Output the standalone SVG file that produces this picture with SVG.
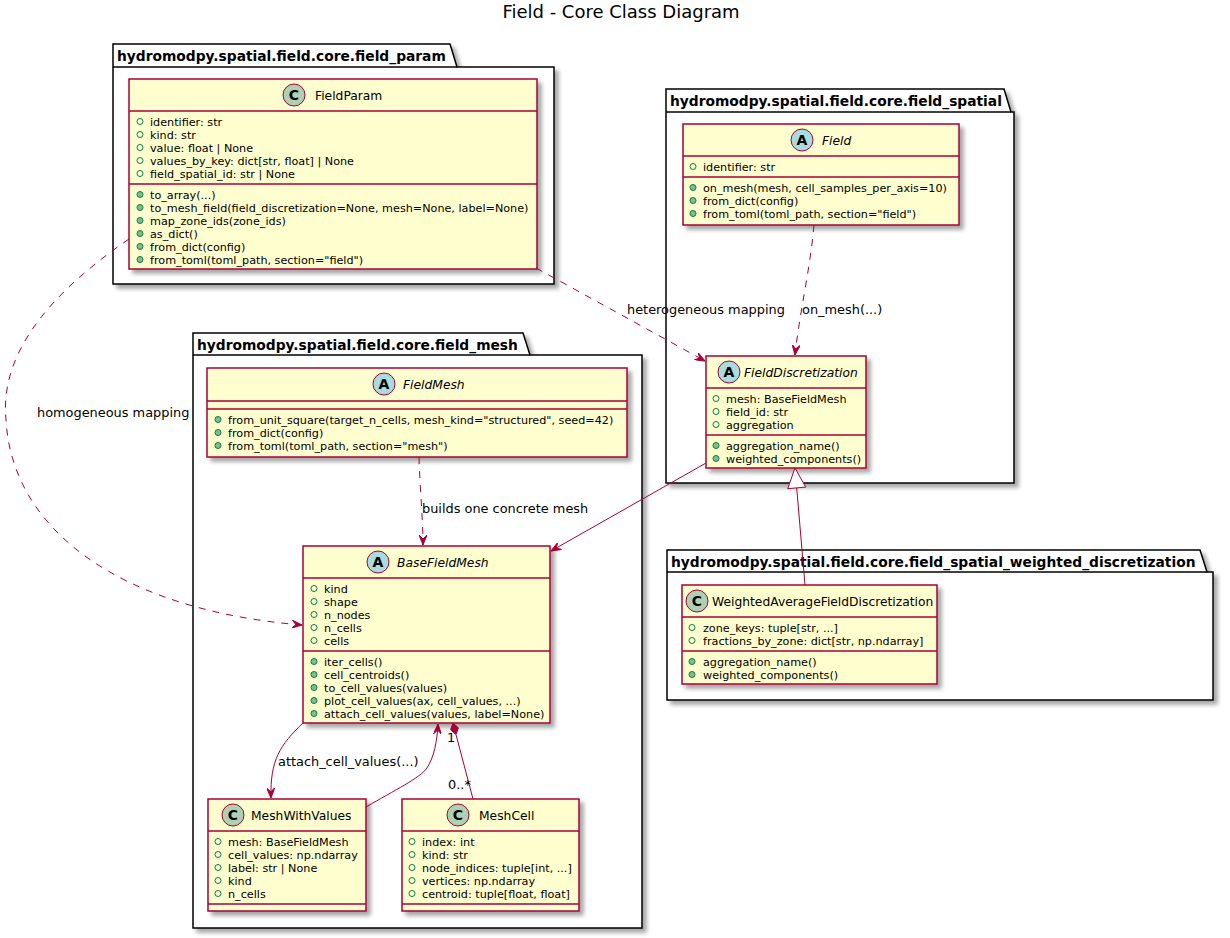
<svg xmlns="http://www.w3.org/2000/svg" width="1230" height="938" viewBox="0 0 1230 938">
<style>
text { font-family: "DejaVu Sans", sans-serif; fill: #000; }
.pkg { fill: #FFFFFF; stroke: #000; stroke-width: 1.5; }
.pkgl { fill: none; stroke: #000; stroke-width: 1.5; }
.pkgt { font-size: 13.8px; font-weight: bold; }
.cls { fill: #FEFECE; stroke: #A80036; stroke-width: 1.5; }
.sep { stroke: #A80036; stroke-width: 1.5; }
.cn { font-size: 12.3px; }
.ab { font-style: italic; }
.m { font-size: 11.2px; }
.fo { fill: none; stroke: #038048; stroke-width: 1; }
.mo { fill: #84BE84; stroke: #038048; stroke-width: 1; }
.sc { fill: #ADD1B2; stroke: #A80036; stroke-width: 1; }
.sa { fill: #A9DCDF; stroke: #A80036; stroke-width: 1; }
.sl { font-size: 14px; font-weight: bold; text-anchor: middle; }
.edge { fill: none; stroke: #A80036; stroke-width: 1; }
.dash { stroke-dasharray: 7,7; }
.lbl { font-size: 12.9px; }
.title { font-size: 18px; text-anchor: middle; }
</style>
<defs>
<filter id="sh" x="-10%" y="-10%" width="130%" height="130%">
<feDropShadow dx="4" dy="4" stdDeviation="2" flood-color="#000" flood-opacity="0.35"/>
</filter>
<marker id="arr" markerUnits="userSpaceOnUse" markerWidth="10" markerHeight="8" viewBox="0 0 10 8" refX="10" refY="4" orient="auto">
<path d="M0,0 L10,4 L0,8 L4,4 Z" fill="#A80036" stroke="#A80036" stroke-width="1"/>
</marker>
</defs>
<rect x="0" y="0" width="1230" height="938" fill="#FFFFFF"/>
<text class="title" x="621" y="17.5">Field - Core Class Diagram</text>

<!-- packages -->
<g id="pkg_field_param">
<path class="pkg" filter="url(#sh)" d="M113,44 L450,44 L457,67 L554,67 L554,284 L113,284 Z"/>
<path class="pkgl" d="M113,67 L457,67"/>
<text class="pkgt" x="117" y="61">hydromodpy.spatial.field.core.field_param</text>
</g>
<g id="pkg_field_spatial">
<path class="pkg" filter="url(#sh)" d="M666,89 L1004,89 L1011,112 L1014,112 L1014,483 L666,483 Z"/>
<path class="pkgl" d="M666,112 L1011,112"/>
<text class="pkgt" x="670" y="106">hydromodpy.spatial.field.core.field_spatial</text>
</g>
<g id="pkg_field_mesh">
<path class="pkg" filter="url(#sh)" d="M193,333 L523,333 L530,355 L642,355 L642,928 L193,928 Z"/>
<path class="pkgl" d="M193,355 L530,355"/>
<text class="pkgt" x="197" y="350">hydromodpy.spatial.field.core.field_mesh</text>
</g>
<g id="pkg_field_spatial_weighted_discretization">
<path class="pkg" filter="url(#sh)" d="M667,550 L1200,550 L1207,572 L1213,572 L1213,700 L667,700 Z"/>
<path class="pkgl" d="M667,572 L1207,572"/>
<text class="pkgt" x="671" y="567">hydromodpy.spatial.field.core.field_spatial_weighted_discretization</text>
</g>

<!-- FieldParam -->
<g id="FieldParam">
<rect class="cls" filter="url(#sh)" x="129" y="79" width="408" height="190"/>
<line class="sep" x1="129" y1="111" x2="537" y2="111"/>
<line class="sep" x1="129" y1="184" x2="537" y2="184"/>
<circle class="sc" cx="294" cy="95" r="11"/>
<text class="sl" x="294" y="100">C</text>
<text class="cn" x="315" y="100">FieldParam</text>
<circle class="fo" cx="140" cy="121.5" r="3"/><text class="m" x="150" y="125.5">identifier: str</text>
<circle class="fo" cx="140" cy="134.5" r="3"/><text class="m" x="150" y="138.5">kind: str</text>
<circle class="fo" cx="140" cy="147.5" r="3"/><text class="m" x="150" y="151.5">value: float | None</text>
<circle class="fo" cx="140" cy="160.5" r="3"/><text class="m" x="150" y="164.5">values_by_key: dict[str, float] | None</text>
<circle class="fo" cx="140" cy="173.5" r="3"/><text class="m" x="150" y="177.5">field_spatial_id: str | None</text>
<circle class="mo" cx="140" cy="194.5" r="3"/><text class="m" x="150" y="198.5">to_array(...)</text>
<circle class="mo" cx="140" cy="207.5" r="3"/><text class="m" x="150" y="211.5">to_mesh_field(field_discretization=None, mesh=None, label=None)</text>
<circle class="mo" cx="140" cy="220.5" r="3"/><text class="m" x="150" y="224.5">map_zone_ids(zone_ids)</text>
<circle class="mo" cx="140" cy="233.5" r="3"/><text class="m" x="150" y="237.5">as_dict()</text>
<circle class="mo" cx="140" cy="246.5" r="3"/><text class="m" x="150" y="250.5">from_dict(config)</text>
<circle class="mo" cx="140" cy="259.5" r="3"/><text class="m" x="150" y="263.5">from_toml(toml_path, section="field")</text>
</g>

<!-- Field -->
<g id="Field">
<rect class="cls" filter="url(#sh)" x="683" y="124" width="276" height="101"/>
<line class="sep" x1="683" y1="156" x2="959" y2="156"/>
<line class="sep" x1="683" y1="177" x2="959" y2="177"/>
<circle class="sa" cx="802" cy="140" r="11"/>
<text class="sl" x="802" y="145">A</text>
<text class="cn ab" x="822" y="145">Field</text>
<circle class="fo" cx="693" cy="166.5" r="3"/><text class="m" x="703" y="170.5">identifier: str</text>
<circle class="mo" cx="693" cy="187.5" r="3"/><text class="m" x="703" y="191.5">on_mesh(mesh, cell_samples_per_axis=10)</text>
<circle class="mo" cx="693" cy="200.5" r="3"/><text class="m" x="703" y="204.5">from_dict(config)</text>
<circle class="mo" cx="693" cy="213.5" r="3"/><text class="m" x="703" y="217.5">from_toml(toml_path, section="field")</text>
</g>

<!-- FieldDiscretization -->
<g id="FieldDiscretization">
<rect class="cls" filter="url(#sh)" x="706" y="356" width="160" height="112"/>
<line class="sep" x1="706" y1="388" x2="866" y2="388"/>
<line class="sep" x1="706" y1="435" x2="866" y2="435"/>
<circle class="sa" cx="729" cy="372" r="11"/>
<text class="sl" x="729" y="377">A</text>
<text class="cn ab" x="744" y="377">FieldDiscretization</text>
<circle class="fo" cx="716" cy="398.5" r="3"/><text class="m" x="726" y="402.5">mesh: BaseFieldMesh</text>
<circle class="fo" cx="716" cy="411.5" r="3"/><text class="m" x="726" y="415.5">field_id: str</text>
<circle class="fo" cx="716" cy="424.5" r="3"/><text class="m" x="726" y="428.5">aggregation</text>
<circle class="mo" cx="716" cy="445.5" r="3"/><text class="m" x="726" y="449.5">aggregation_name()</text>
<circle class="mo" cx="716" cy="458.5" r="3"/><text class="m" x="726" y="462.5">weighted_components()</text>
</g>

<!-- FieldMesh -->
<g id="FieldMesh">
<rect class="cls" filter="url(#sh)" x="207" y="368" width="420" height="89"/>
<line class="sep" x1="207" y1="401" x2="627" y2="401"/>
<line class="sep" x1="207" y1="409" x2="627" y2="409"/>
<circle class="sa" cx="384" cy="384" r="11"/>
<text class="sl" x="384" y="389">A</text>
<text class="cn ab" x="403" y="389">FieldMesh</text>
<circle class="mo" cx="218" cy="419.5" r="3"/><text class="m" x="228" y="423.5">from_unit_square(target_n_cells, mesh_kind="structured", seed=42)</text>
<circle class="mo" cx="218" cy="432.5" r="3"/><text class="m" x="228" y="436.5">from_dict(config)</text>
<circle class="mo" cx="218" cy="445.5" r="3"/><text class="m" x="228" y="449.5">from_toml(toml_path, section="mesh")</text>
</g>

<!-- BaseFieldMesh -->
<g id="BaseFieldMesh">
<rect class="cls" filter="url(#sh)" x="303" y="546" width="247" height="177"/>
<line class="sep" x1="303" y1="578" x2="550" y2="578"/>
<line class="sep" x1="303" y1="651" x2="550" y2="651"/>
<circle class="sa" cx="378" cy="562" r="11"/>
<text class="sl" x="378" y="567">A</text>
<text class="cn ab" x="397" y="567">BaseFieldMesh</text>
<circle class="fo" cx="314" cy="588.5" r="3"/><text class="m" x="324" y="592.5">kind</text>
<circle class="fo" cx="314" cy="601.5" r="3"/><text class="m" x="324" y="605.5">shape</text>
<circle class="fo" cx="314" cy="614.5" r="3"/><text class="m" x="324" y="618.5">n_nodes</text>
<circle class="fo" cx="314" cy="627.5" r="3"/><text class="m" x="324" y="631.5">n_cells</text>
<circle class="fo" cx="314" cy="640.5" r="3"/><text class="m" x="324" y="644.5">cells</text>
<circle class="mo" cx="314" cy="661.5" r="3"/><text class="m" x="324" y="665.5">iter_cells()</text>
<circle class="mo" cx="314" cy="674.5" r="3"/><text class="m" x="324" y="678.5">cell_centroids()</text>
<circle class="mo" cx="314" cy="687.5" r="3"/><text class="m" x="324" y="691.5">to_cell_values(values)</text>
<circle class="mo" cx="314" cy="700.5" r="3"/><text class="m" x="324" y="704.5">plot_cell_values(ax, cell_values, ...)</text>
<circle class="mo" cx="314" cy="713.5" r="3"/><text class="m" x="324" y="717.5">attach_cell_values(values, label=None)</text>
</g>

<!-- MeshWithValues -->
<g id="MeshWithValues">
<rect class="cls" filter="url(#sh)" x="208" y="799" width="158" height="112"/>
<line class="sep" x1="208" y1="831" x2="366" y2="831"/>
<line class="sep" x1="208" y1="904" x2="366" y2="904"/>
<circle class="sc" cx="233" cy="815" r="11"/>
<text class="sl" x="233" y="820">C</text>
<text class="cn" x="251" y="820">MeshWithValues</text>
<circle class="fo" cx="218" cy="841.5" r="3"/><text class="m" x="228" y="845.5">mesh: BaseFieldMesh</text>
<circle class="fo" cx="218" cy="854.5" r="3"/><text class="m" x="228" y="858.5">cell_values: np.ndarray</text>
<circle class="fo" cx="218" cy="867.5" r="3"/><text class="m" x="228" y="871.5">label: str | None</text>
<circle class="fo" cx="218" cy="880.5" r="3"/><text class="m" x="228" y="884.5">kind</text>
<circle class="fo" cx="218" cy="893.5" r="3"/><text class="m" x="228" y="897.5">n_cells</text>
</g>

<!-- MeshCell -->
<g id="MeshCell">
<rect class="cls" filter="url(#sh)" x="402" y="799" width="177" height="112"/>
<line class="sep" x1="402" y1="831" x2="579" y2="831"/>
<line class="sep" x1="402" y1="904" x2="579" y2="904"/>
<circle class="sc" cx="458" cy="815" r="11"/>
<text class="sl" x="458" y="820">C</text>
<text class="cn" x="479" y="820">MeshCell</text>
<circle class="fo" cx="412" cy="841.5" r="3"/><text class="m" x="422" y="845.5">index: int</text>
<circle class="fo" cx="412" cy="854.5" r="3"/><text class="m" x="422" y="858.5">kind: str</text>
<circle class="fo" cx="412" cy="867.5" r="3"/><text class="m" x="422" y="871.5">node_indices: tuple[int, ...]</text>
<circle class="fo" cx="412" cy="880.5" r="3"/><text class="m" x="422" y="884.5">vertices: np.ndarray</text>
<circle class="fo" cx="412" cy="893.5" r="3"/><text class="m" x="422" y="897.5">centroid: tuple[float, float]</text>
</g>

<!-- WeightedAverageFieldDiscretization -->
<g id="WeightedAverageFieldDiscretization">
<rect class="cls" filter="url(#sh)" x="682" y="585" width="255" height="99"/>
<line class="sep" x1="682" y1="617" x2="937" y2="617"/>
<line class="sep" x1="682" y1="651" x2="937" y2="651"/>
<circle class="sc" cx="697" cy="601" r="11"/>
<text class="sl" x="697" y="606">C</text>
<text class="cn" x="712" y="606">WeightedAverageFieldDiscretization</text>
<circle class="fo" cx="692" cy="627.5" r="3"/><text class="m" x="703" y="631.5">zone_keys: tuple[str, ...]</text>
<circle class="fo" cx="692" cy="640.5" r="3"/><text class="m" x="703" y="644.5">fractions_by_zone: dict[str, np.ndarray]</text>
<circle class="mo" cx="692" cy="661.5" r="3"/><text class="m" x="703" y="665.5">aggregation_name()</text>
<circle class="mo" cx="692" cy="674.5" r="3"/><text class="m" x="703" y="678.5">weighted_components()</text>
</g>

<!-- connectors -->
<g id="connectors">
<path class="edge dash" marker-end="url(#arr)" d="M129,239 C40,300 0,360 6,420 C12,530 120,610 302,625"/>
<text class="lbl" x="37" y="417">homogeneous mapping</text>
<path class="edge dash" marker-end="url(#arr)" d="M536,268 L705,361"/>
<text class="lbl" x="627" y="314">heterogeneous mapping</text>
<path class="edge dash" marker-end="url(#arr)" d="M814,225 C810,270 800,310 795,355"/>
<text class="lbl" x="802" y="314">on_mesh(...)</text>
<path class="edge dash" marker-end="url(#arr)" d="M419,457 C420,490 423,520 423,545"/>
<text class="lbl" x="422" y="513">builds one concrete mesh</text>
<path class="edge" marker-end="url(#arr)" d="M706,463 L551,551"/>
<path class="edge" d="M805,585 L796.7,488"/>
<polygon points="795,468 805.7,487.1 787.7,488.7" fill="#FFFFFF" stroke="#A80036" stroke-width="1"/>
<path class="edge" marker-end="url(#arr)" d="M303,723 C280,745 270,760 271,798"/>
<text class="lbl" x="278" y="766">attach_cell_values(...)</text>
<path class="edge" marker-end="url(#arr)" d="M366,807 C395,790 420,778 427,768 C434,757 437,742 438,724"/>
<path class="edge" d="M456,734.6 L473,799"/>
<polygon points="453,723 458.4,727.8 456,734.6 450.6,729.8" fill="#A80036" stroke="#A80036" stroke-width="1"/>
<text class="lbl" x="447" y="742">1</text>
<text class="lbl" x="448" y="789">0..*</text>
</g>
</svg>
